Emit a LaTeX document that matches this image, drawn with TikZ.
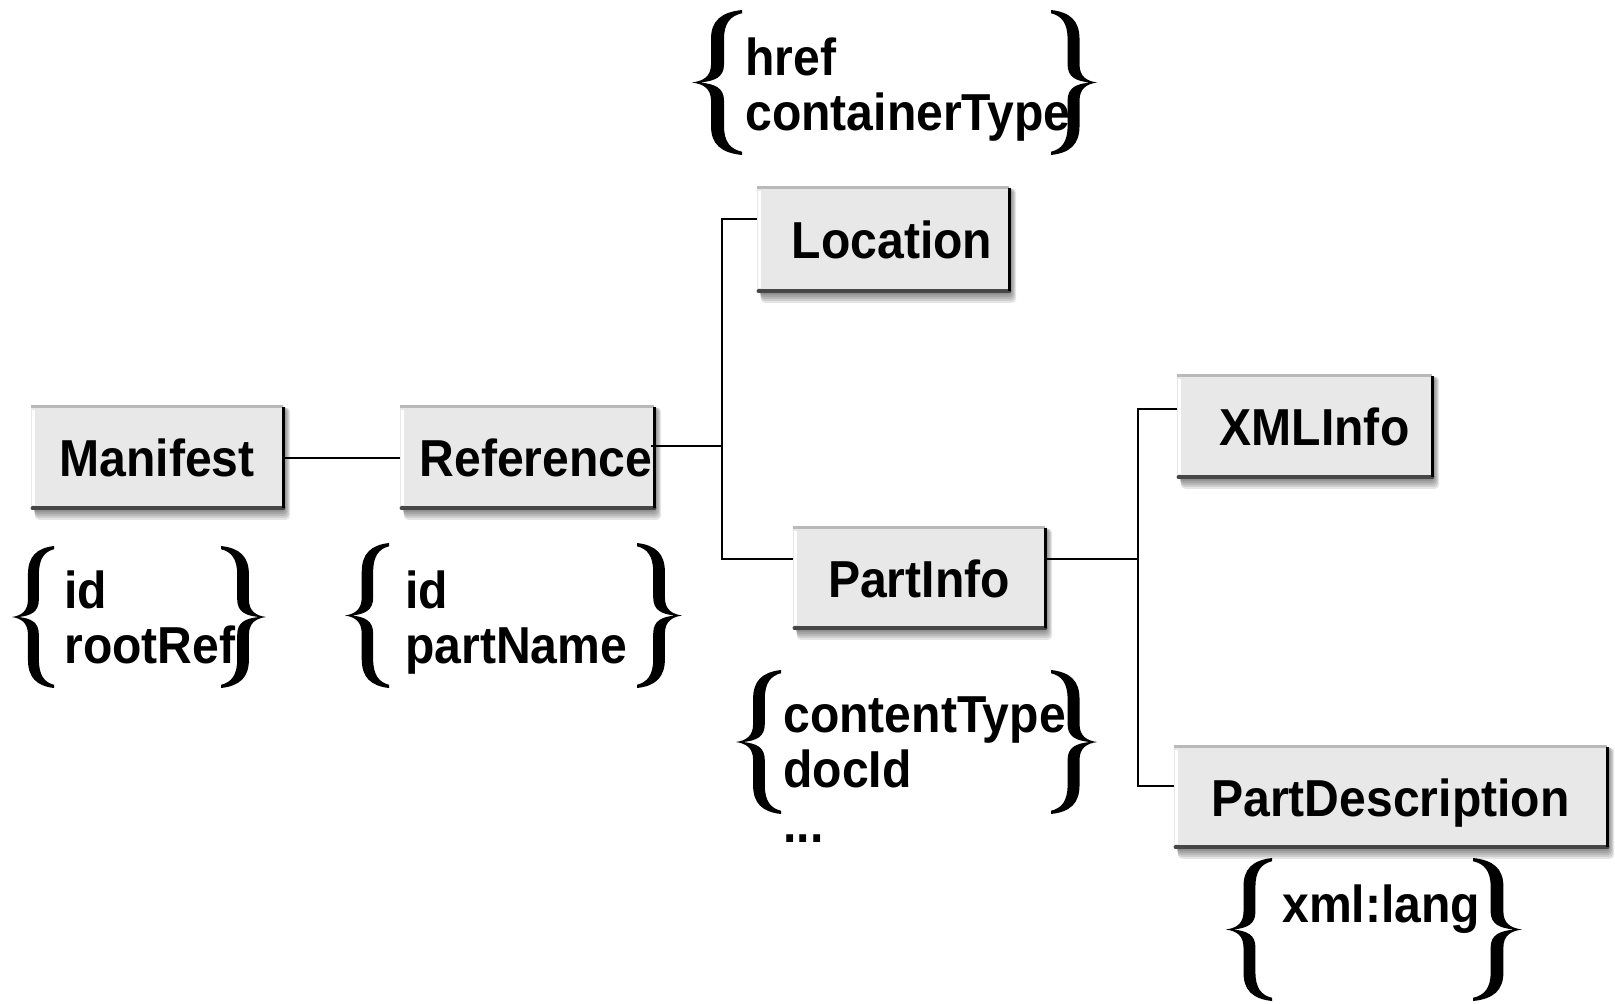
\documentclass[tikz,border=0pt]{standalone}
\usepackage{fontspec}
\setmainfont{Liberation Sans}[FakeStretch=0.925]
\usetikzlibrary{shadows}
\pgfdeclarelayer{back}
\pgfsetlayers{back,main}
\tikzset{
  x=0.5pt, y=-0.5pt,
  lblfont/.style={font=\bfseries\fontsize{26}{28}\selectfont},
  elbox/.style={rectangle, fill=gray!18, inner sep=0pt, lblfont,
    text height=19pt, text depth=0pt},
  attr/.style={inner sep=0pt, anchor=base west, lblfont},
  conn/.style={line width=1pt, black},
  curly/.pic={
    \fill (1,1) .. controls (0.58,0.97) and (0.38,0.85) .. (0.38,0.6)
      -- (0.38,0.25) .. controls (0.38,0.08) and (0.22,0.02) .. (0,0)
      .. controls (0.22,-0.02) and (0.38,-0.08) .. (0.38,-0.25)
      -- (0.38,-0.6) .. controls (0.38,-0.85) and (0.58,-0.97) .. (1,-1)
      -- (1,-0.955)
      .. controls (0.77,-0.92) and (0.64,-0.82) .. (0.64,-0.6)
      -- (0.64,-0.25) .. controls (0.64,-0.07) and (0.45,-0.02) .. (0.16,0)
      .. controls (0.45,0.02) and (0.64,0.07) .. (0.64,0.25)
      -- (0.64,0.6) .. controls (0.64,0.82) and (0.77,0.92) .. (1,0.955)
      -- cycle;
  }
}
\begin{document}
\begin{tikzpicture}
\useasboundingbox (0,0) rectangle (1615,1003);

% element boxes
\node[elbox, minimum width=126pt, minimum height=50.5pt] (man) at (157,457.5) {Manifest};
\node[elbox, minimum width=127pt, minimum height=50.5pt] (ref) at (527,457.5) {\hspace*{9pt}Reference};
\node[elbox, minimum width=126pt, minimum height=51.5pt] (loc) at (883,239.5) {\hspace*{9pt}Location};
\node[elbox, minimum width=126pt, minimum height=50pt] (pinf) at (919,578) {PartInfo};
\node[elbox, minimum width=127.5pt, minimum height=50.5pt] (xml) at (1304.5,426.5) {\hspace*{10pt}XMLInfo};
\node[elbox, minimum width=216.5pt, minimum height=50pt] (pdesc) at (1390.5,797) {PartDescription};

% soft shadows and bevelled edges of the boxes
\begin{pgfonlayer}{back}
\foreach \n in {man,ref,loc,pinf,xml,pdesc}{
  \foreach \k in {1,...,6}{
    \fill[black, opacity=0.1, rounded corners=2pt]
      ([xshift=1pt+0.2*\k pt, yshift=-0.95*\k pt]\n.south west)
      rectangle ([xshift=0.55*\k pt, yshift=-0.5pt]\n.north east);
  }
}
\end{pgfonlayer}
\foreach \n in {man,ref,loc,pinf,xml,pdesc}{
  \draw[gray!55, line width=1.2pt] (\n.north west) -- (\n.north east);
  \draw[white, line width=1.5pt] ([xshift=1.5pt,yshift=-1.5pt]\n.north west) -- ([xshift=1.5pt,yshift=1.5pt]\n.south west);
  \draw[gray!55!black, line width=2pt, line cap=round] ([xshift=1pt]\n.south west) -- (\n.south east);
  \draw[black, line width=1.5pt] (\n.north east) -- (\n.south east);
}

% tree connectors
\coordinate (j1) at (722,446);
\coordinate (t1top) at (722,219);
\coordinate (t1bot) at (722,559);
\coordinate (j2) at (1138,559);
\coordinate (t2top) at (1138,409);
\coordinate (t2bot) at (1138,786);

\draw[conn] (man.east) -- (ref.west);
\draw[conn] ([xshift=-1.5pt]ref.east |- j1) -- (j1);
\draw[conn] (loc.west |- t1top) -- (t1top) -- (t1bot) -- (pinf.west |- t1bot);
\draw[conn] (pinf.east |- j2) -- (j2);
\draw[conn] (xml.west |- t2top) -- (t2top) -- (t2bot) -- (pdesc.west |- t2bot);

% attribute lists
\node[attr] (a1) at (64,608) {id};
\node[attr] (a2) at (64,663) {rootRef};
\pic[xscale=42, yscale=71] at (12,617) {curly};
\pic[xscale=-45, yscale=71] at (266,617) {curly};

\node[attr] (b1) at (405,608) {id};
\node[attr] (b2) at (405,663) {partName};
\pic[xscale=44, yscale=72.5] at (345,615.5) {curly};
\pic[xscale=-45, yscale=72.5] at (682,615.5) {curly};

\node[attr] (c1) at (745,75) {href};
\node[attr] (c2) at (745,130) {containerType};
\pic[xscale=50, yscale=72.5] at (692,82.5) {curly};
\pic[xscale=-46, yscale=72.5] at (1097,82.5) {curly};

\node[attr] (d1) at (783,732) {contentType};
\node[attr] (d2) at (783,787) {docId};
\node[attr] (d3) at (783,842) {...};
\pic[xscale=45, yscale=72] at (736,742) {curly};
\pic[xscale=-46, yscale=72] at (1097,742) {curly};

\node[attr] (e1) at (1282,922) {xml:lang};
\pic[xscale=46, yscale=71.5] at (1226,929.5) {curly};
\pic[xscale=-49, yscale=71.5] at (1522,929.5) {curly};
\end{tikzpicture}
\end{document}
